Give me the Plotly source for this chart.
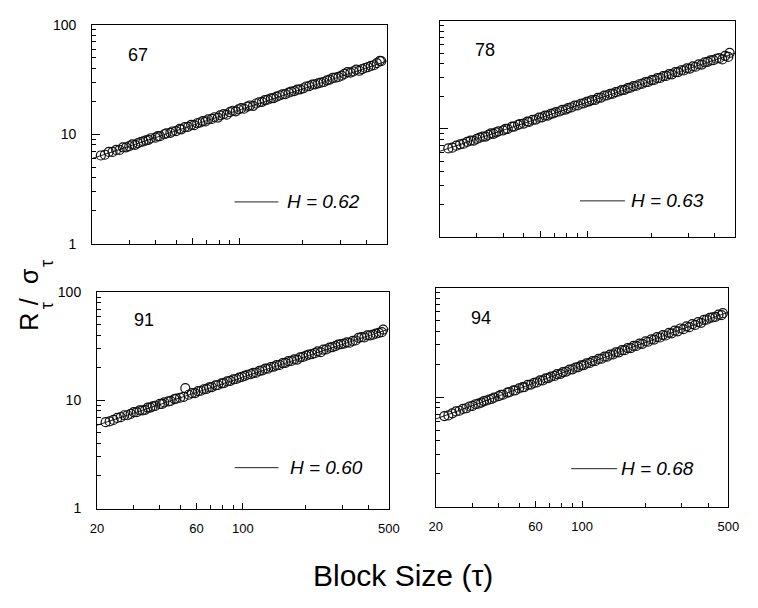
import plotly.graph_objects as go

# block sizes (tau) shared by all four panels
block_size = [22, 23, 24, 25, 26, 27, 28, 29, 30, 31, 32, 33, 34, 35, 36, 37, 38, 40, 41, 42,
              44, 45, 47, 48, 50, 52, 53, 55, 57, 59, 61, 63, 65, 67, 69, 71, 74, 76, 79, 81,
              84, 87, 90, 93, 96, 99, 102, 105, 109, 112, 116, 120, 124, 128, 132, 136, 141, 145, 150, 155,
              160, 165, 171, 176, 182, 188, 194, 201, 207, 214, 221, 228, 236, 243, 251, 260, 268, 277, 286, 295,
              305, 315, 325, 336, 347, 358, 370, 382, 394, 407, 420, 434, 448, 463, 470]

rs_67 = [6.4, 6.5, 6.9, 6.9, 7.2, 7.2, 7.6, 7.6, 7.8, 8.1, 8.0, 8.3, 8.5, 8.6, 8.8, 8.9, 9.2, 9.3, 9.6, 9.6,
         10.0, 10.2, 10.3, 10.6, 10.7, 11.2, 11.1, 11.6, 11.7, 12.2, 12.1, 12.6, 12.8, 13.2, 13.1, 13.7, 13.8, 14.3, 14.2, 14.9,
         15.3, 15.1, 15.9, 16.4, 16.2, 16.9, 17.3, 17.1, 17.9, 18.3, 18.2, 19.1, 19.6, 19.8, 20.5, 20.7, 21.3, 21.4, 22.1, 22.6,
         23.1, 23.3, 24.0, 24.5, 24.8, 25.6, 25.7, 26.3, 27.3, 27.5, 28.4, 28.6, 29.2, 29.6, 30.0, 31.1, 31.6, 32.7, 32.9, 33.4,
         34.3, 35.6, 37.0, 36.6, 37.5, 38.9, 38.0, 39.4, 40.3, 41.0, 42.2, 42.7, 44.6, 46.8, 46.5]

rs_78 = [6.6, 6.7, 7.0, 7.2, 7.3, 7.6, 7.8, 7.8, 8.1, 8.3, 8.5, 8.5, 8.8, 9.1, 9.0, 9.3, 9.5, 9.7, 10.0, 10.0,
         10.5, 10.5, 10.9, 11.1, 11.2, 11.7, 11.6, 12.1, 12.2, 12.7, 12.8, 13.3, 13.3, 13.8, 13.9, 14.3, 14.5, 15.0, 15.1, 15.6,
         15.8, 16.4, 16.5, 17.1, 17.2, 17.8, 18.0, 18.5, 18.6, 19.4, 19.5, 20.3, 20.4, 21.1, 21.2, 21.9, 22.2, 22.9, 23.0, 23.9,
         24.1, 24.9, 25.1, 25.9, 26.2, 27.1, 27.2, 28.3, 28.4, 29.5, 29.6, 30.8, 30.9, 32.1, 32.0, 33.5, 33.6, 34.9, 34.8, 36.4,
         36.2, 37.9, 37.6, 39.5, 39.4, 41.3, 41.8, 43.0, 43.3, 44.6, 45.2, 44.0, 47.5, 46.4, 50.5]

rs_91 = [6.3, 6.4, 6.6, 6.9, 7.0, 7.3, 7.3, 7.5, 7.8, 7.8, 8.1, 8.1, 8.2, 8.6, 8.6, 8.8, 8.9, 9.3, 9.3, 9.6,
         9.8, 9.9, 10.3, 10.4, 10.6, 10.8, 13.0, 11.3, 11.7, 11.7, 12.2, 12.3, 12.7, 12.8, 13.2, 13.3, 13.8, 13.9, 14.4, 14.5,
         15.0, 15.2, 15.7, 15.8, 16.3, 16.5, 16.9, 17.3, 17.5, 18.0, 18.1, 18.8, 19.0, 19.7, 19.7, 20.4, 20.6, 21.2, 21.3, 22.2,
         22.3, 23.1, 23.2, 24.0, 23.9, 25.1, 25.3, 26.0, 26.6, 26.8, 27.4, 28.5, 28.0, 29.5, 29.7, 30.8, 31.2, 31.8, 32.9, 33.3,
         33.6, 34.5, 34.2, 35.6, 35.9, 37.9, 38.5, 38.3, 40.0, 40.1, 40.6, 41.5, 42.3, 42.9, 45.3]

rs_94 = [6.7, 6.8, 7.1, 7.4, 7.5, 7.8, 7.9, 8.2, 8.3, 8.6, 8.7, 8.9, 9.2, 9.3, 9.5, 9.6, 9.9, 10.2, 10.5, 10.5,
         11.0, 11.1, 11.5, 11.5, 12.0, 12.3, 12.3, 12.9, 13.0, 13.5, 13.6, 14.2, 14.2, 14.8, 14.9, 15.4, 15.6, 16.2, 16.3, 16.9,
         17.1, 17.8, 17.9, 18.6, 18.8, 19.5, 19.6, 20.3, 20.5, 21.3, 21.4, 22.3, 22.4, 23.4, 23.4, 24.4, 24.5, 25.6, 25.6, 26.8,
         26.8, 28.0, 28.0, 29.3, 29.3, 30.7, 30.6, 32.2, 32.0, 33.6, 33.5, 35.2, 35.0, 36.8, 36.5, 38.6, 38.2, 40.4, 39.8, 42.3,
         41.7, 44.3, 43.5, 46.3, 45.6, 48.4, 47.6, 50.6, 50.9, 52.8, 53.4, 54.0, 56.5, 56.0, 58.4]

# fitted power-law lines, end points at tau = 20 and 500
fit_x = [20, 500]
fit_67 = [6.0, 46.5]
fit_78 = [6.2, 50.3]
fit_91 = [5.9, 45.8]
fit_94 = [6.3, 59.7]

years = ['67', '78', '91', '94']
h_labels = ['H = 0.62', 'H = 0.63', 'H = 0.60', 'H = 0.68']
series = [rs_67, rs_78, rs_91, rs_94]
fits = [fit_67, fit_78, fit_91, fit_94]

# the page body adds an 8px margin, so the figure is 750x600 and
# positions measured on the 758x608 screenshot are shifted back by 8px
W, H, OFF = 750, 600, 8


def px(X):
    return (X - OFF) / W


def py(Y):
    return 1 - (Y - OFF) / H


# panel boxes in screen pixels: (left, right, top, bottom)
boxes = [(87, 389, 17, 242), (443, 746, 13, 235), (92, 391, 292, 514), (439, 739, 287, 512)]
# year label pos, legend line x0/x1/y, text x (all in axis domain fractions)
year_pos = [(0.116, 0.862), (0.112, 0.865), (0.12, 0.874), (0.113, 0.862)]
key_pos = [(0.483, 0.632, 0.191, 0.656), (0.475, 0.627, 0.167, 0.64),
           (0.472, 0.622, 0.189, 0.656), (0.463, 0.62, 0.173, 0.627)]

FONT = 'Arial, Liberation Sans, sans-serif'

fig = go.Figure()

for i in range(4):
    n = '' if i == 0 else str(i + 1)
    fig.add_trace(go.Scatter(
        x=fit_x, y=fits[i], mode='lines',
        line=dict(color='#222222', width=1),
        xaxis='x' + n, yaxis='y' + n, showlegend=False
    ))
    fig.add_trace(go.Scatter(
        x=block_size, y=series[i], mode='markers',
        marker=dict(symbol='circle-open', size=9, color='#111111', line=dict(width=1.2)),
        xaxis='x' + n, yaxis='y' + n, showlegend=False
    ))

layout = dict(
    width=W, height=H, autosize=False,
    margin=dict(l=0, r=0, t=0, b=0),
    paper_bgcolor='white', plot_bgcolor='white',
    font=dict(family=FONT, color='black'),
)

for i in range(4):
    n = '' if i == 0 else str(i + 1)
    bl, br, bt, bb = boxes[i]
    bottom = i >= 2
    left = i % 2 == 0
    layout['xaxis' + n] = dict(
        domain=[px(bl), px(br)], anchor='y' + n, type='log',
        range=[1.30103, 2.69897],
        tickvals=[20, 60, 100, 500], ticktext=['20', '60', '100', '500'],
        showticklabels=bottom, ticks='inside', ticklen=6, tickwidth=1, tickcolor='black',
        ticklabelstandoff=8,
        minor=dict(tickvals=[30, 40, 50, 70, 80, 90, 200, 300, 400],
                   ticks='inside', ticklen=4, tickwidth=1, tickcolor='black'),
        showline=True, linecolor='black', linewidth=1, mirror=True,
        showgrid=False, zeroline=False,
        tickfont=dict(size=13, family=FONT),
    )
    layout['yaxis' + n] = dict(
        domain=[py(bb), py(bt)], anchor='x' + n, type='log',
        range=[0, 2],
        tickvals=[1, 10, 100], ticktext=['1', '10', '100'],
        showticklabels=left, ticks='inside', ticklen=8, tickwidth=1, tickcolor='black',
        ticklabelstandoff=12,
        minor=dict(tickvals=[2, 3, 4, 5, 6, 7, 8, 9, 20, 30, 40, 50, 60, 70, 80, 90],
                   ticks='inside', ticklen=4, tickwidth=1, tickcolor='black'),
        showline=True, linecolor='black', linewidth=1, mirror=True,
        showgrid=False, zeroline=False,
        tickfont=dict(size=14, family=FONT),
    )

fig.update_layout(**layout)

for i in range(4):
    n = '' if i == 0 else str(i + 1)
    xd = 'x' + n + ' domain'
    yd = 'y' + n + ' domain'
    fig.add_annotation(text=years[i], xref=xd, yref=yd, x=year_pos[i][0], y=year_pos[i][1],
                       xanchor='left', yanchor='middle', showarrow=False,
                       font=dict(size=18, family=FONT, color='black'))
    kx0, kx1, ky, tx = key_pos[i]
    fig.add_shape(type='line', xref=xd, yref=yd, x0=kx0, x1=kx1, y0=ky, y1=ky,
                  line=dict(color='#222222', width=1))
    fig.add_annotation(text='<i>' + h_labels[i] + '</i>', xref=xd, yref=yd, x=tx, y=ky,
                       xanchor='left', yanchor='middle', showarrow=False,
                       font=dict(size=19, family=FONT, color='black'))

# shared x title
fig.add_annotation(text='Block Size (τ)', xref='paper', yref='paper', x=px(406), y=py(583),
                   xanchor='center', yanchor='middle', showarrow=False,
                   font=dict(size=30, family=FONT, color='black'))

# y title R_tau / sigma_tau, rotated, built from single glyphs
for txt, gx, gy, size in [('R', 22, 322.5, 25), ('/', 22, 301.5, 25), ('σ', 23, 275.5, 25),
                          ('τ', 41, 306, 18), ('τ', 41, 262.5, 18)]:
    fig.add_annotation(text=txt, xref='paper', yref='paper', x=px(gx), y=py(gy),
                       xanchor='center', yanchor='middle', textangle=-90, showarrow=False,
                       font=dict(size=size, family=FONT, color='black'))

fig.write_html('out.html')
